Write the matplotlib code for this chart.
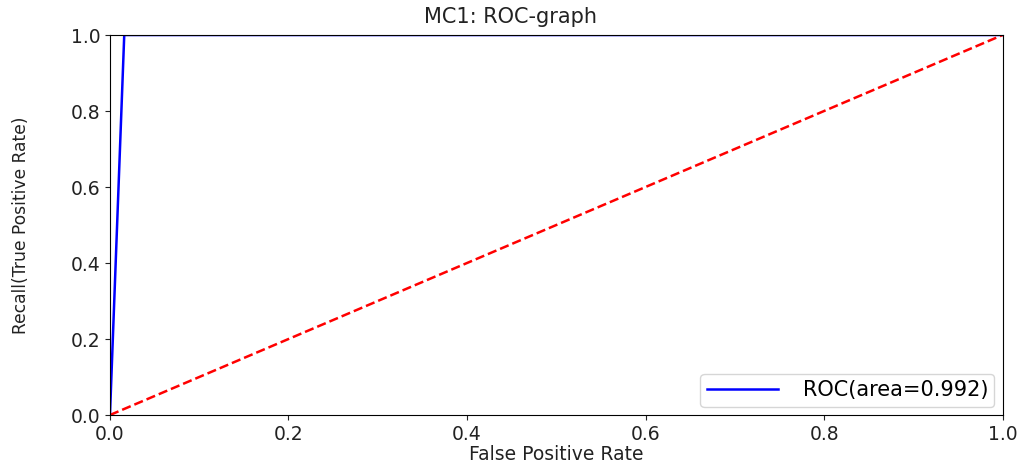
import matplotlib as mpl
mpl.use("Agg")
import matplotlib.pyplot as plt

# ROC curve points
fpr = [0.0, 0.016, 1.0]
tpr = [0.0, 1.0, 1.0]
chance = [0.0, 1.0]
auc_value = 0.992

fig = plt.figure(figsize=(10.21, 4.73), dpi=100)
ax = fig.add_axes([0.1077, 0.1226, 0.8743, 0.8034])
ax.plot(fpr, tpr, color="blue", lw=1.8, label=f"ROC(area={auc_value})")
ax.plot(chance, chance, color="red", ls="--", lw=1.8)
ax.set_xlim(0, 1)
ax.set_ylim(0, 1)
ax.tick_params(labelsize=13.5, colors="#222222")
ax.set_xlabel("False Positive Rate", fontsize=13.5, labelpad=1, color="#222222")
ax.set_ylabel("Recall(True Positive Rate)", fontsize=12.3, color="#222222")
ax.yaxis.set_label_coords(-0.09, 0.5)
fig.suptitle("MC1: ROC-graph", fontsize=15, x=0.5, y=0.965, va="center", color="#222222")
ax.legend(loc="lower right", fontsize=15, handlelength=3.4, handletextpad=1.2,
          borderpad=0.3, borderaxespad=0.4)
fig.savefig("out.png", dpi=100)
